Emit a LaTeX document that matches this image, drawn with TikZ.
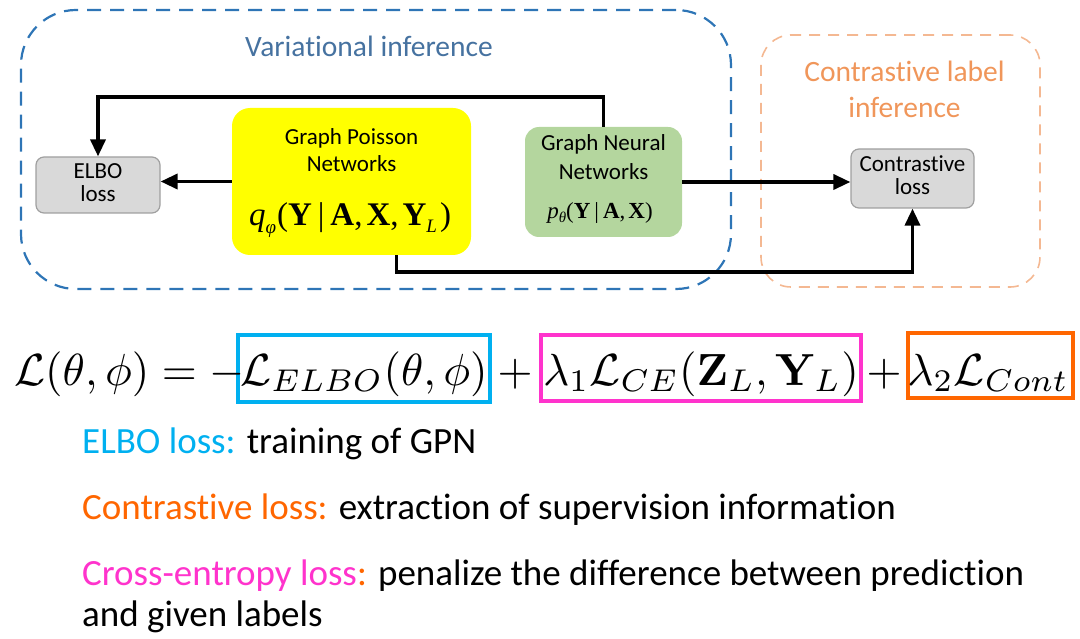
\documentclass[tikz,border=0pt]{standalone}
\usepackage[no-math]{fontspec}
\usepackage{graphicx}
\setmainfont{Carlito}[Ligatures=NoCommon]
\newfontfamily\tnr{Liberation Serif}
\usetikzlibrary{arrows.meta}
\definecolor{vblue}{RGB}{46,117,182}
\definecolor{vtext}{RGB}{70,114,160}
\definecolor{peach}{RGB}{244,184,146}
\definecolor{ctext}{RGB}{240,150,90}
\definecolor{gpnyellow}{RGB}{255,255,0}
\definecolor{gnngreen}{RGB}{180,214,158}
\definecolor{lossgray}{RGB}{217,217,217}
\definecolor{lossedge}{RGB}{160,160,160}
\definecolor{cyanc}{RGB}{0,176,240}
\definecolor{magc}{RGB}{255,51,204}
\definecolor{orac}{RGB}{255,102,0}
\newcommand\bxf{\fontsize{23}{23}\selectfont}
\newcommand\hdf{\fontsize{29.5}{29.5}\selectfont}
\newcommand\btf{\fontsize{37}{37}\selectfont}
\newcommand\eqm[1]{\scalebox{4.5}{\fontsize{10}{12}\selectfont$#1$}}
\begin{document}
\begin{tikzpicture}[x=1pt,y=-1pt,
  region/.style={draw, dashed, rectangle, inner sep=0pt},
  proc/.style={rectangle, inner sep=0pt},
  lossbox/.style={rectangle, inner sep=0pt, fill=lossgray, draw=lossedge, line width=1.2pt, rounded corners=8pt},
  lbl/.style={anchor=base, inner sep=0pt},
  btxt/.style={anchor=base west, inner sep=0pt},
  eqbox/.style={rectangle, inner sep=0pt, line width=3.8pt},
  arr/.style={line width=3.5pt, -{Triangle[width=15pt,length=17pt]}}
]
\useasboundingbox (0,0) rectangle (1080,639);

% regions
\node[region, draw=vblue, line width=2.2pt, dash pattern=on 14pt off 9pt, rounded corners=55pt,
  minimum width=710pt, minimum height=279pt] (vi) at (376,149.5) {};
\node[region, draw=peach, line width=1.6pt, dash pattern=on 11pt off 8pt, rounded corners=30pt,
  minimum width=279pt, minimum height=252pt] (cli) at (900.5,161) {};
\node[lbl, text=vtext] (vitxt) at (369,57) {\hdf Variational inference};
\node[lbl, text=ctext] (clitxt1) at (904.5,82) {\hdf Contrastive label};
\node[lbl, text=ctext] (clitxt2) at (904.5,118) {\hdf inference};

% boxes
\node[lossbox, minimum width=124pt, minimum height=56pt] (elbo) at (98,185) {};
\node[lbl] (elbot1) at (98,179) {\bxf ELBO};
\node[lbl] (elbot2) at (98,202) {\bxf loss};

\node[proc, fill=gpnyellow, rounded corners=18pt, minimum width=239pt, minimum height=147pt] (gpn) at (351.5,181.5) {};
\node[lbl] (gpnt1) at (351.5,145) {\bxf Graph Poisson};
\node[lbl] (gpnt2) at (351.5,172) {\bxf Networks};
\node[lbl] (gpnf) at (350,226) {\tnr\fontsize{33}{33}\selectfont\textit{q}\raisebox{-8pt}{\fontsize{19}{19}\selectfont\textit{φ}}\kern1pt(\textbf{Y}\kern6pt|\kern6pt\textbf{A},\kern4pt\textbf{X},\kern4pt\textbf{Y}\raisebox{-7pt}{\fontsize{19}{19}\selectfont\textit{L}}\kern3pt)};

\node[proc, fill=gnngreen, rounded corners=14pt, minimum width=157pt, minimum height=110pt] (gnn) at (603.5,182) {};
\node[lbl] (gnnt1) at (603.5,151) {\bxf Graph Neural};
\node[lbl] (gnnt2) at (603.5,180) {\bxf Networks};
\node[lbl] (gnnf) at (600,219) {\tnr\fontsize{23}{23}\selectfont\textit{p}\raisebox{-4pt}{\fontsize{15}{15}\selectfont\textit{θ}}(\textbf{Y}\kern4pt|\kern4pt\textbf{A},\kern3pt\textbf{X})};

\node[lossbox, minimum width=123pt, minimum height=59pt] (closs) at (912.5,178.5) {};
\node[lbl] (closst1) at (912.5,172) {\bxf Contrastive};
\node[lbl] (closst2) at (912.5,195) {\bxf loss};

% connectors
\draw[arr] (gnn.north) -- ++(0,-30) -| (elbo.north);
\draw[arr] (gpn.west) -- (gpn.west -| elbo.east);
\draw[arr] (gnn.east) -- (gnn.east -| closs.west);
\draw[arr] ([xshift=45pt]gpn.south) -- ++(0,17) -| (closs.south);

% formula
\node[eqbox, draw=cyanc, minimum width=252pt, minimum height=67pt] (b1) at (364,368.5) {};
\node[eqbox, draw=magc, line width=3.5pt, minimum width=320pt, minimum height=66pt] (b2) at (701,368) {};
\node[eqbox, draw=orac, minimum width=165pt, minimum height=65pt] (b3) at (990.5,365.5) {};
\node[btxt] (e0) at (14,385) {\eqm{\mathcal{L}(\theta,\phi) = -}};
\node[lbl] (e1) at (364,385) {\eqm{\mathcal{L}_{ELBO}(\theta,\phi)}};
\node[lbl] (p1) at (515,385) {\eqm{+}};
\node[lbl] (e2) at (701,385) {\eqm{\lambda_1\mathcal{L}_{CE}(\mathbf{Z}_L,\mathbf{Y}_L)}};
\node[lbl] (p2) at (884,385) {\eqm{+}};
\node[lbl] (e3) at (988,385) {\eqm{\lambda_2\mathcal{L}_{Cont}}};

% bottom text
\node[btxt] (l1) at (82,453) {\btf\textcolor{cyanc}{ELBO loss:} training of GPN};
\node[btxt] (l2) at (82,519) {\btf\textcolor{orac}{Contrastive loss:} extraction of supervision information};
\node[btxt] (l3) at (82,585) {\btf\textcolor{magc}{Cross-entropy loss}\textcolor{orac}{:} penalize the difference between prediction};
\node[btxt] (l4) at (82,626) {\btf and given labels};
\end{tikzpicture}
\end{document}
